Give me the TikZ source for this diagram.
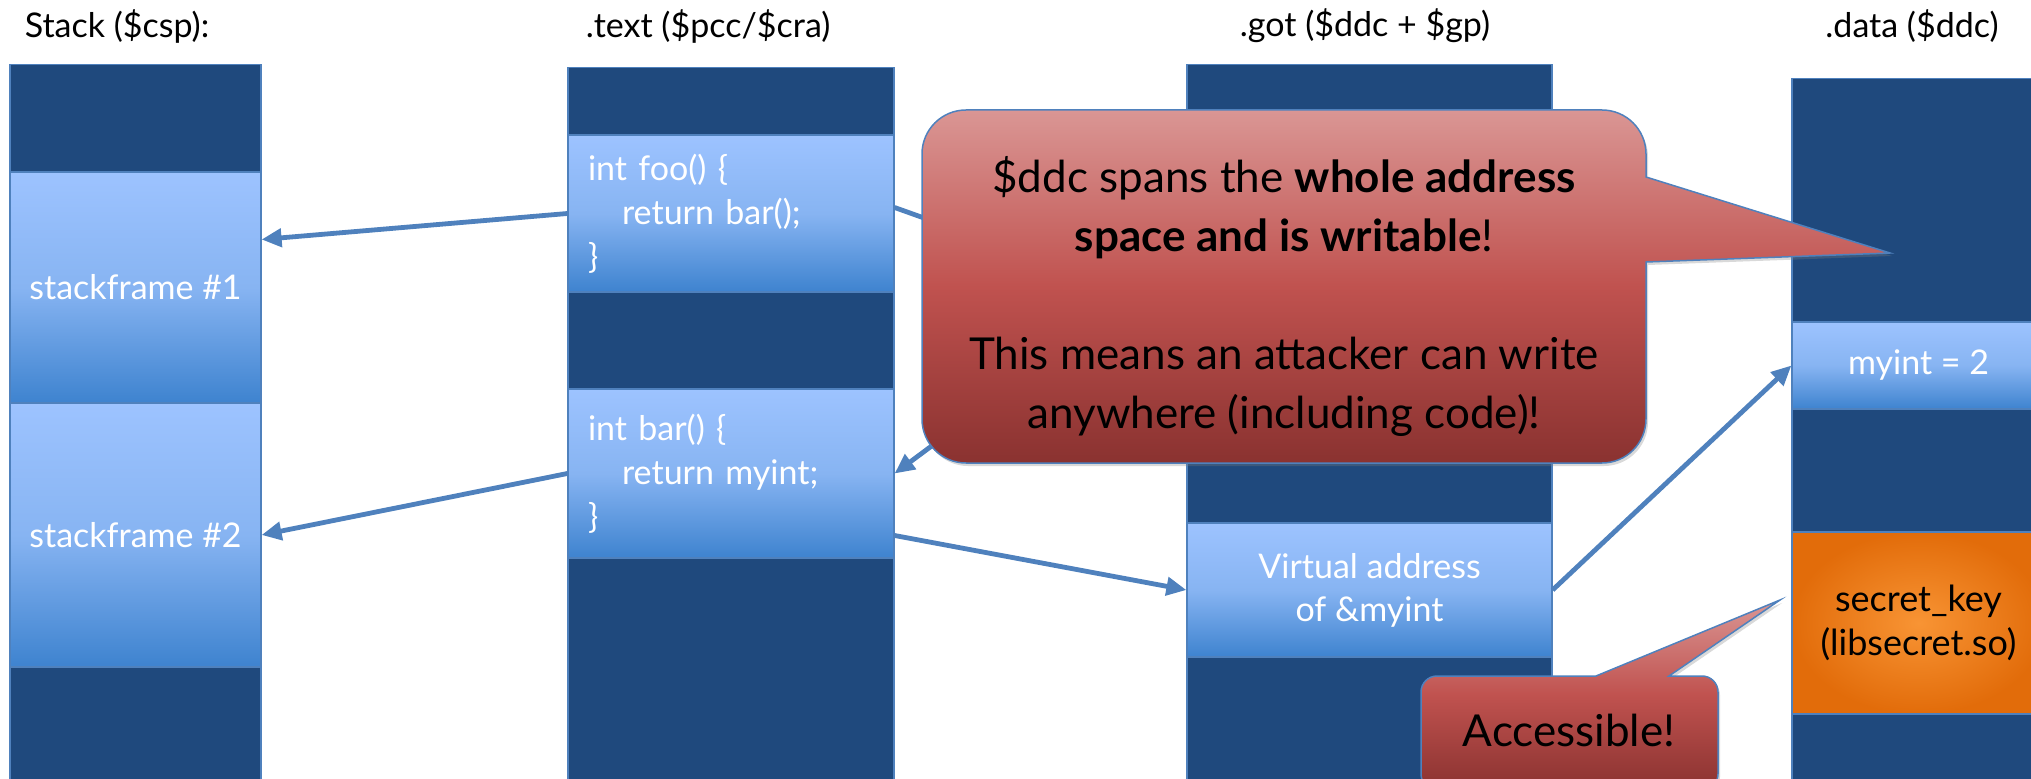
\documentclass[tikz,border=0pt]{standalone}
\usepackage{fontspec}
\setmainfont{Lato}
\usepackage{xcolor}
\usepackage{tikz}
\usetikzlibrary{positioning, arrows.meta, shadows}

\definecolor{segdark}{RGB}{31,73,125}
\definecolor{segline}{RGB}{79,129,189}
\definecolor{boxtop}{RGB}{157,195,255}
\definecolor{boxmid}{RGB}{135,180,242}
\definecolor{boxbot}{RGB}{62,131,207}
\definecolor{calltop}{RGB}{218,150,148}
\definecolor{callmid}{RGB}{192,82,79}
\definecolor{callbot}{RGB}{138,50,48}
\definecolor{keyin}{RGB}{248,148,52}
\definecolor{keyout}{RGB}{226,108,10}

\tikzset{
    title/.style={font=\fontsize{17}{20}\selectfont},
    seg/.style={rectangle, draw=segline, line width=0.75pt, fill=segdark, anchor=north, inner sep=0pt},
    entry/.style={rectangle, draw=segline, line width=0.6pt, top color=boxtop, bottom color=boxbot, middle color=boxmid, text=white, font=\fontsize{17}{21.5}\selectfont, inner sep=0pt, align=center},
    code/.style={entry, align=left, text width=143pt, inner xsep=10pt, font=\fontsize{17}{22}\selectfont},
    secret/.style={rectangle, draw=segline, line width=0.6pt, inner color=keyin, outer color=keyout, text=black, font=\fontsize{18}{22}\selectfont, inner sep=0pt, align=center},
    ptr/.style={draw=segline, line width=2.4pt, -{Triangle[length=10pt, width=9pt]}},
    callout/.style={draw=segline, line width=0.75pt, top color=calltop, bottom color=callbot, middle color=callmid, drop shadow={opacity=0.3, shadow xshift=1pt, shadow yshift=-1.5pt}},
    calltext/.style={align=center, font=\fontsize{22}{29.5}\selectfont}
}

\begin{document}
\begin{tikzpicture}[x=0.5pt, y=0.5pt]
    \useasboundingbox (0,0) rectangle (2031,778);

    % titles
    \node[title] (ttstack) at (117,752) {Stack (\$csp):};
    \node[title] (tttext) at (708,752) {.text (\$pcc/\$cra)};
    \node[title] (ttgot) at (1365,752) {.got (\$ddc + \$gp)};
    \node[title] (ttdata) at (1912,752) {.data (\$ddc)};

    % segments
    \node[seg, minimum width=125.5pt, minimum height=367pt] (stackseg) at (135.5,714) {};
    \node[seg, minimum width=163pt, minimum height=366pt] (textseg) at (731,711) {};
    \node[seg, minimum width=182.5pt, minimum height=367pt] (gotseg) at (1369.5,714) {};
    \node[seg, minimum width=126.5pt, minimum height=360pt] (dataseg) at (1918.5,700) {};

    % entries
    \node[entry, minimum width=125.5pt, minimum height=115.5pt] (frame1) at (135.5,490.5) {stackframe \#1};
    \node[entry, minimum width=125.5pt, minimum height=132pt] (frame2) at (135.5,243) {stackframe \#2};
    \node[code, minimum height=78.5pt] (foo) at (731,564.5) {int foo() \{\\\hspace*{1em}return bar();\\\}};
    \node[code, minimum height=84.5pt] (bar) at (731,304.5) {int bar() \{\\\hspace*{1em}return myint;\\\}};
    \node[entry, minimum width=182.5pt, minimum height=67pt] (vaddr) at (1369.5,188) {Virtual address\\of \&myint};
    \node[entry, minimum width=126.5pt, minimum height=43.5pt] (myint) at (1918.5,412.5) {myint = 2};
    \node[secret, minimum width=126.5pt, minimum height=91pt] (key) at (1918.5,155) {secret\_key\\(libsecret.so)};

    % pointers
    \coordinate (gotfoo) at (1050,515);
    \coordinate (gotbar) at (1050,420);
    \draw[ptr] (foo.west) -- ([yshift=24pt]frame1.east);
    \draw[ptr] (bar.west) -- (frame2.east);
    \draw[ptr] ([yshift=3pt]foo.east) -- (gotfoo);
    \draw[ptr] (gotbar) -- (bar.east);
    \draw[ptr] ([yshift=-31pt]bar.east) -- (vaddr.west);
    \draw[ptr] (vaddr.east) -- (myint.west);

    % callouts
    \draw[callout] (922,490) [rounded corners=22pt] -- (922,668) -- (1646,668) [sharp corners] -- (1646,601) -- (1890,525) -- (1646,516) [rounded corners=22pt] -- (1646,315) -- (922,315) -- cycle;
    \node[calltext] (warn) at (1284,482) {\$ddc spans the \textbf{whole address}\\\textbf{space and is writable}!\\[29.5pt]This means an attacker can write\\anywhere (including code)!};

    \draw[callout] (1421,40) [rounded corners=8pt] -- (1421,102) [sharp corners] -- (1596,102) -- (1780,178) -- (1669,102) [rounded corners=8pt] -- (1718,102) -- (1718,-12) -- (1421,-12) -- cycle;
    \node[calltext] (acc) at (1569,48) {Accessible!};
\end{tikzpicture}
\end{document}
